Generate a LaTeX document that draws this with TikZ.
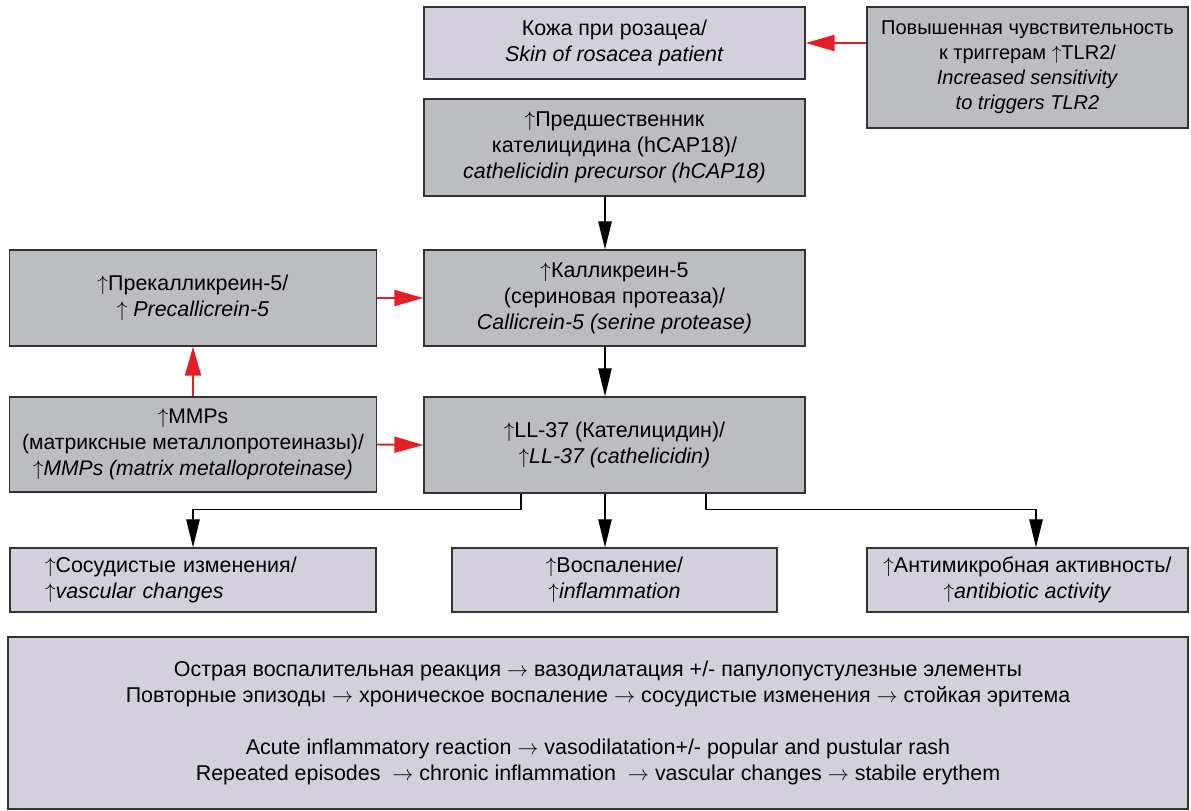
\documentclass[tikz,border=0pt]{standalone}
\usepackage{fontspec}
\setmainfont{Liberation Sans}
\usepackage{amsmath}
\usetikzlibrary{arrows.meta,positioning}
\definecolor{boxgray}{RGB}{188,189,192}
\definecolor{boxlav}{RGB}{211,208,219}
\definecolor{arrred}{RGB}{228,30,38}
\tikzset{box/.style={draw=black!80, line width=0.8pt, align=center, inner sep=0pt,
    font=\fontsize{12.2}{14.8}\selectfont},
  graybox/.style={box, fill=boxgray},
  lavbox/.style={box, fill=boxlav},
  blk/.style={draw=black, line width=0.6pt, -{Triangle[length=0.56cm,width=0.27cm]}},
  redarr/.style={draw=arrred, line width=1.1pt, -{Triangle[length=0.58cm,width=0.32cm]}}}

\begin{document}
\begin{tikzpicture}[x=0.02cm, y=-0.02cm]
\useasboundingbox (0,0) rectangle (1191,811);

\node[lavbox, minimum width=7.62cm, minimum height=1.44cm] (skin) at (614.5,43)
  {Кожа при розацеа/\\ \textit{Skin of rosacea patient}};
\node[graybox, minimum width=6.42cm, minimum height=2.42cm,
  font=\fontsize{11.4}{14.3}\selectfont] (trig) at (1027.5,67.5)
  {Повышенная чувствительность\\ к триггерам $\uparrow$TLR2/\\ \textit{Increased sensitivity}\\ \textit{to triggers TLR2}};
\node[graybox, minimum width=7.62cm, minimum height=1.94cm] (prec) at (614.5,147.5)
  {$\uparrow$Предшественник\\ кателицидина (hCAP18)/\\ \textit{cathelicidin precursor (hCAP18)}};
\node[graybox, minimum width=7.62cm, minimum height=1.92cm] (kal) at (614.5,298)
  {$\uparrow$Калликреин-5\\ (сериновая протеаза)/\\ \textit{Callicrein-5 (serine protease)}};
\node[graybox, minimum width=7.34cm, minimum height=1.92cm] (prekal) at (193,298)
  {$\uparrow$Прекалликреин-5/\\ $\uparrow$ \textit{Precallicrein-5}};
\node[graybox, minimum width=7.34cm, minimum height=1.9cm,
  font=\fontsize{12}{14.8}\selectfont] (mmp) at (193,444.5)
  {$\uparrow$MMPs\\ (матриксные металлопротеиназы)/\\ $\uparrow$\textit{MMPs (matrix metalloproteinase)}};
\node[graybox, minimum width=7.62cm, minimum height=1.92cm] (ll) at (614.5,445)
  {$\uparrow$LL-37 (Кателицидин)/\\ $\uparrow$\textit{LL-37 (cathelicidin)}};

\node[lavbox, text width=5.92cm, inner xsep=0.7cm, minimum height=1.28cm, align=left] (vasc) at (193,580)
  {$\uparrow$Сосудистые изменения/\\ $\uparrow$\textit{vascular changes}};
\node[lavbox, minimum width=6.5cm, minimum height=1.28cm] (infl) at (614.5,580)
  {$\uparrow$Воспаление/\\ $\uparrow$\textit{inflammation}};
\node[lavbox, minimum width=6.42cm, minimum height=1.28cm] (anti) at (1027.5,580)
  {$\uparrow$Антимикробная активность/\\ $\uparrow$\textit{antibiotic activity}};

\node[lavbox, minimum width=23.6cm, minimum height=3.44cm] (summ) at (598,723)
  {Острая воспалительная реакция $\rightarrow$ вазодилатация +/- папулопустулезные элементы\\
   Повторные эпизоды $\rightarrow$ хроническое воспаление $\rightarrow$ сосудистые изменения $\rightarrow$ стойкая эритема\\[14.8pt]
   Acute inflammatory reaction $\rightarrow$ vasodilatation+/- popular and pustular rash\\
   Repeated episodes~ $\rightarrow$ chronic inflammation~ $\rightarrow$ vascular changes $\rightarrow$ stabile erythem};

% red links
\draw[redarr] (trig.west |- skin.east) -- (skin.east);
\draw[redarr] (prekal.east) -- (kal.west);
\draw[redarr] (mmp.east) -- (ll.west);
\draw[redarr] (mmp.north) -- (prekal.south);

% main chain
\draw[blk] ([xshift=-0.19cm]prec.south) -- ([xshift=-0.19cm]kal.north);
\draw[blk] ([xshift=-0.19cm]kal.south) -- ([xshift=-0.19cm]ll.north);
\draw[blk] ([xshift=-0.19cm]ll.south) -- ([xshift=-0.19cm]infl.north);
\draw[blk] ([xshift=-1.87cm]ll.south) -- ++(0,16) -| (vasc.north);
\draw[blk] ([xshift=1.83cm]ll.south) -- ++(0,16) -| ([xshift=0.17cm]anti.north);

\end{tikzpicture}
\end{document}
